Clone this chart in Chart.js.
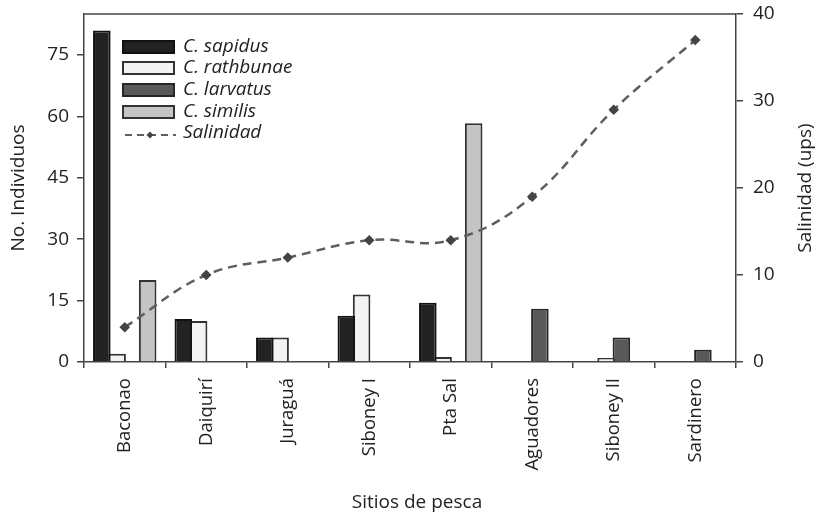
<!DOCTYPE html>
<html><head><meta charset="utf-8">
<script src="https://cdn.jsdelivr.net/npm/chart.js@4/dist/chart.umd.min.js"></script>
<style>html,body{margin:0;padding:0;background:#fff}#wrap{width:818px;height:519px;position:relative}</style>
</head><body><div id="wrap"><canvas id="c" width="818" height="519"></canvas></div>
<script>
const categories = ['Baconao','Daiquirí','Juraguá','Siboney I','Pta Sal','Aguadores','Siboney II','Sardinero'];
const sapidus   = [81, 10.5, 6, 11.3, 14.5, null, null, null];
const rathbunae = [2, 10, 6, 16.5, 1.2, null, 1, null];
const larvatus  = [null, null, null, null, null, 13, 6, 3];
const similis   = [20, null, null, null, 58.3, null, null, null];
const salinidad = [4, 10, 12, 14, 14, 19, 29, 37];
const leftTicks = [0, 15, 30, 45, 60, 75];
const rightTicks = [0, 10, 20, 30, 40];
const seriesNames = ['C. sapidus', 'C. rathbunae', 'C. larvatus', 'C. similis', 'Salinidad'];

const FONT = '"Open Sans", "Noto Sans", sans-serif';
const AXIS = '#444';
const TXT = '#222';

const barStyle = [
  {bg: '#222222', bd: '#111111'},
  {bg: '#f3f3f3', bd: '#333333'},
  {bg: '#595959', bd: '#262626'},
  {bg: '#c4c4c4', bd: '#333333'}
];
const lineColor = '#5e5e5e';

const legendPlugin = {
  id: 'customLegend',
  afterDraw(chart) {
    const ctx = chart.ctx;
    ctx.save();
    const rows = [47, 68, 90, 112, 133];
    const bx = 123, bw = 51, bh = 12, tx = 183;
    ctx.font = 'italic 19px ' + FONT;
    ctx.textBaseline = 'middle';
    ctx.textAlign = 'left';
    for (let i = 0; i < 4; i++) {
      ctx.fillStyle = barStyle[i].bg;
      ctx.strokeStyle = barStyle[i].bd;
      ctx.lineWidth = 2;
      ctx.fillRect(bx, rows[i] - bh / 2, bw, bh);
      ctx.strokeRect(bx, rows[i] - bh / 2, bw, bh);
      ctx.fillStyle = TXT;
      ctx.fillText(seriesNames[i], tx, rows[i]);
    }
    const y = rows[4] + 2;
    ctx.strokeStyle = lineColor;
    ctx.lineWidth = 2;
    ctx.setLineDash([7, 5]);
    ctx.beginPath(); ctx.moveTo(125, y); ctx.lineTo(176, y); ctx.stroke();
    ctx.setLineDash([]);
    ctx.fillStyle = '#444';
    ctx.beginPath();
    ctx.moveTo(150, y - 3.5); ctx.lineTo(153.5, y); ctx.lineTo(150, y + 3.5); ctx.lineTo(146.5, y); ctx.closePath(); ctx.fill();
    ctx.fillStyle = TXT;
    ctx.fillText(seriesNames[4], tx, rows[4]);
    ctx.restore();
  }
};

const framePlugin = {
  id: 'frame',
  afterDraw(chart) {
    const {ctx, chartArea: a} = chart;
    ctx.save();
    ctx.strokeStyle = AXIS;
    ctx.lineWidth = 1.5;
    ctx.beginPath(); ctx.moveTo(a.left, a.top); ctx.lineTo(a.right, a.top); ctx.stroke();
    ctx.font = '19px ' + FONT;
    ctx.fillStyle = TXT;
    ctx.textAlign = 'center';
    ctx.textBaseline = 'middle';
    ctx.fillText('Sitios de pesca', 417, 503);
    ctx.save();
    ctx.translate(19, (a.top + a.bottom) / 2);
    ctx.rotate(-Math.PI / 2);
    ctx.fillText('No. Individuos', 0, 0);
    ctx.restore();
    ctx.translate(806, (a.top + a.bottom) / 2);
    ctx.rotate(-Math.PI / 2);
    ctx.fillText('Salinidad (ups)', 0, 0);
    ctx.restore();
  }
};

const barDs = (label, data, i) => ({
  type: 'bar', label, data, yAxisID: 'y', order: 2,
  backgroundColor: barStyle[i].bg, borderColor: barStyle[i].bd, borderWidth: 2,
  categoryPercentage: 0.75, barPercentage: 1.15
});

function noPad(s) { s.paddingTop = 0; s.paddingBottom = 0; s.paddingLeft = 0; s.paddingRight = 0; }

new Chart(document.getElementById('c'), {
  data: {
    labels: categories,
    datasets: [
      barDs(seriesNames[0], sapidus, 0),
      barDs(seriesNames[1], rathbunae, 1),
      barDs(seriesNames[2], larvatus, 2),
      barDs(seriesNames[3], similis, 3),
      {
        type: 'line', label: seriesNames[4], data: salinidad, yAxisID: 'y1', order: 0,
        borderColor: lineColor, borderWidth: 2.5, borderDash: [9, 6], tension: 0.4,
        pointStyle: 'rectRot', pointRadius: 3.5, pointBackgroundColor: '#444', pointBorderColor: '#444'
      }
    ]
  },
  options: {
    responsive: false, animation: false, devicePixelRatio: 1,
    layout: {padding: {top: 14, left: 0, right: 0, bottom: 0}},
    plugins: {legend: {display: false}, tooltip: {enabled: false}},
    scales: {
      x: {
        afterFit(s) { s.height = 157; noPad(s); },
        grid: {display: true, offset: true, drawOnChartArea: false, drawTicks: true, tickLength: 6, color: AXIS, lineWidth: 1.5},
        border: {display: true, color: AXIS, width: 1.5},
        ticks: {maxRotation: 90, minRotation: 90, padding: 10, color: TXT, font: {family: FONT, size: 18.5}},
        title: {display: false}
      },
      y: {
        position: 'left', min: 0, max: 85,
        afterFit(s) { s.width = 84; noPad(s); },
        afterBuildTicks(s) { s.ticks = leftTicks.map(v => ({value: v})); },
        grid: {display: true, drawOnChartArea: false, drawTicks: true, tickLength: 7, color: AXIS, lineWidth: 1.5},
        border: {display: true, color: AXIS, width: 1.5},
        ticks: {padding: 8, color: TXT, font: {family: FONT, size: 19}},
        title: {display: false}
      },
      y1: {
        position: 'right', min: 0, max: 40,
        afterFit(s) { s.width = 82; noPad(s); },
        afterBuildTicks(s) { s.ticks = rightTicks.map(v => ({value: v})); },
        grid: {display: true, drawOnChartArea: false, drawTicks: true, tickLength: 7, color: AXIS, lineWidth: 1.5},
        border: {display: true, color: AXIS, width: 1.5},
        ticks: {padding: 10, color: TXT, font: {family: FONT, size: 19}},
        title: {display: false}
      }
    }
  },
  plugins: [legendPlugin, framePlugin]
});
</script></body></html>
